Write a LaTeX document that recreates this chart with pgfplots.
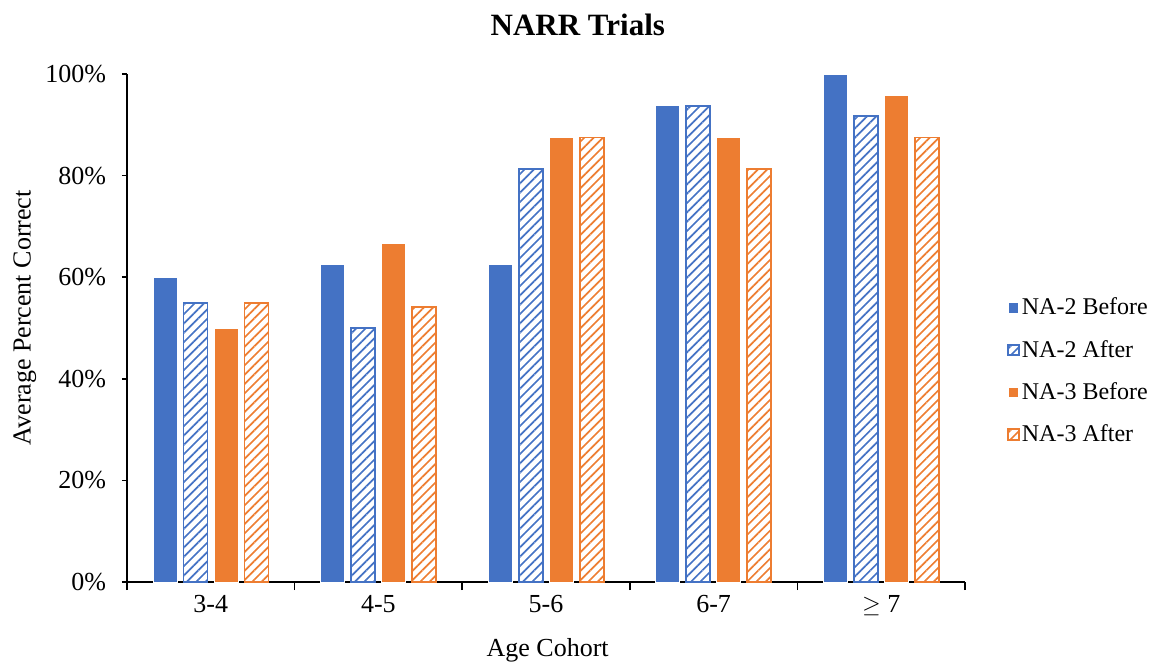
\documentclass[border=0pt]{standalone}
\usepackage{fontspec}
\setmainfont{Liberation Serif}
\usepackage{pgfplots}
\pgfplotsset{compat=1.18}
\usetikzlibrary{patterns.meta}

\definecolor{xlblue}{HTML}{4472C4}
\definecolor{xlorange}{HTML}{ED7D31}

\pgfplotstableread{
x  na2b   na2a   na3b   na3a
0  60     55     50     55
1  62.5   50     66.67  54.17
2  62.5   81.25  87.5   87.5
3  93.75  93.75  87.5   81.25
4  100    91.67  95.83  87.5
}\narr

\tikzset{
  solidbar/.style={fill=#1, draw=white, line width=0.5pt},
  hatchbar/.style={draw=#1, line width=0.9pt,
    pattern={Lines[angle=45,distance=3.3pt,line width=0.85pt]}, pattern color=#1},
}

\begin{document}
\begin{tikzpicture}
\useasboundingbox (-63.5pt,-42pt) rectangle (515pt,291pt);
\begin{axis}[
  scale only axis,
  clip=false,
  width=419pt, height=254pt,
  ybar=3.25pt, bar width=12pt,
  xmin=-0.5, xmax=4.5,
  ymin=0, ymax=100,
  axis x line*=bottom, axis y line*=left,
  axis line style={-, black, line width=0.8pt},
  xtick={0,1,2,3,4},
  xticklabels={3-4, 4-5, 5-6, 6-7, $\geq$ 7},
  minor xtick={-0.5,0.5,1.5,2.5,3.5,4.5},
  major x tick style={draw=none},
  minor x tick style={black, line width=0.8pt},
  minor tick length=4pt,
  ytick={0,20,40,60,80,100},
  yticklabel={\pgfmathprintnumber{\tick}\%},
  major y tick style={black, line width=0.8pt},
  major tick length=2.5pt,
  tick align=outside,
  tick pos=left,
  /pgf/number format/assume math mode=true,
  ticklabel style={font=\fontsize{13pt}{15pt}\selectfont},
  xticklabel style={yshift=-0.5pt},
  yticklabel style={xshift=-4.5pt},
  xlabel={Age Cohort},
  ylabel={Average Percent Correct},
  label style={font=\fontsize{13pt}{15pt}\selectfont},
  xlabel style={at={(axis description cs:0.502,-0.134)}, anchor=center},
  ylabel style={at={(axis description cs:-0.122,0.52)}, anchor=center},
  legend image code/.code={\draw[#1] (0pt,-2.6pt) rectangle (5.2pt,2.6pt);},
  legend style={draw=none, fill=none, at={(1.05,0.415)}, anchor=west,
    font=\fontsize{12pt}{14pt}\selectfont, row sep=8.75pt,
    legend cell align=left, inner sep=0pt,
    nodes={inner sep=1.2pt}},
]
\addplot[solidbar=xlblue] table[x=x,y=na2b]{\narr};
\addlegendentry{NA-2 Before}
\addplot[hatchbar=xlblue] table[x=x,y=na2a]{\narr};
\addlegendentry{NA-2 After}
\addplot[solidbar=xlorange] table[x=x,y=na3b]{\narr};
\addlegendentry{NA-3 Before}
\addplot[hatchbar=xlorange] table[x=x,y=na3a]{\narr};
\addlegendentry{NA-3 After}
\node[font=\bfseries\fontsize{15.5pt}{18pt}\selectfont, anchor=center]
  at (axis description cs:0.538,1.096) {NARR Trials};
\end{axis}
\end{tikzpicture}
\end{document}
